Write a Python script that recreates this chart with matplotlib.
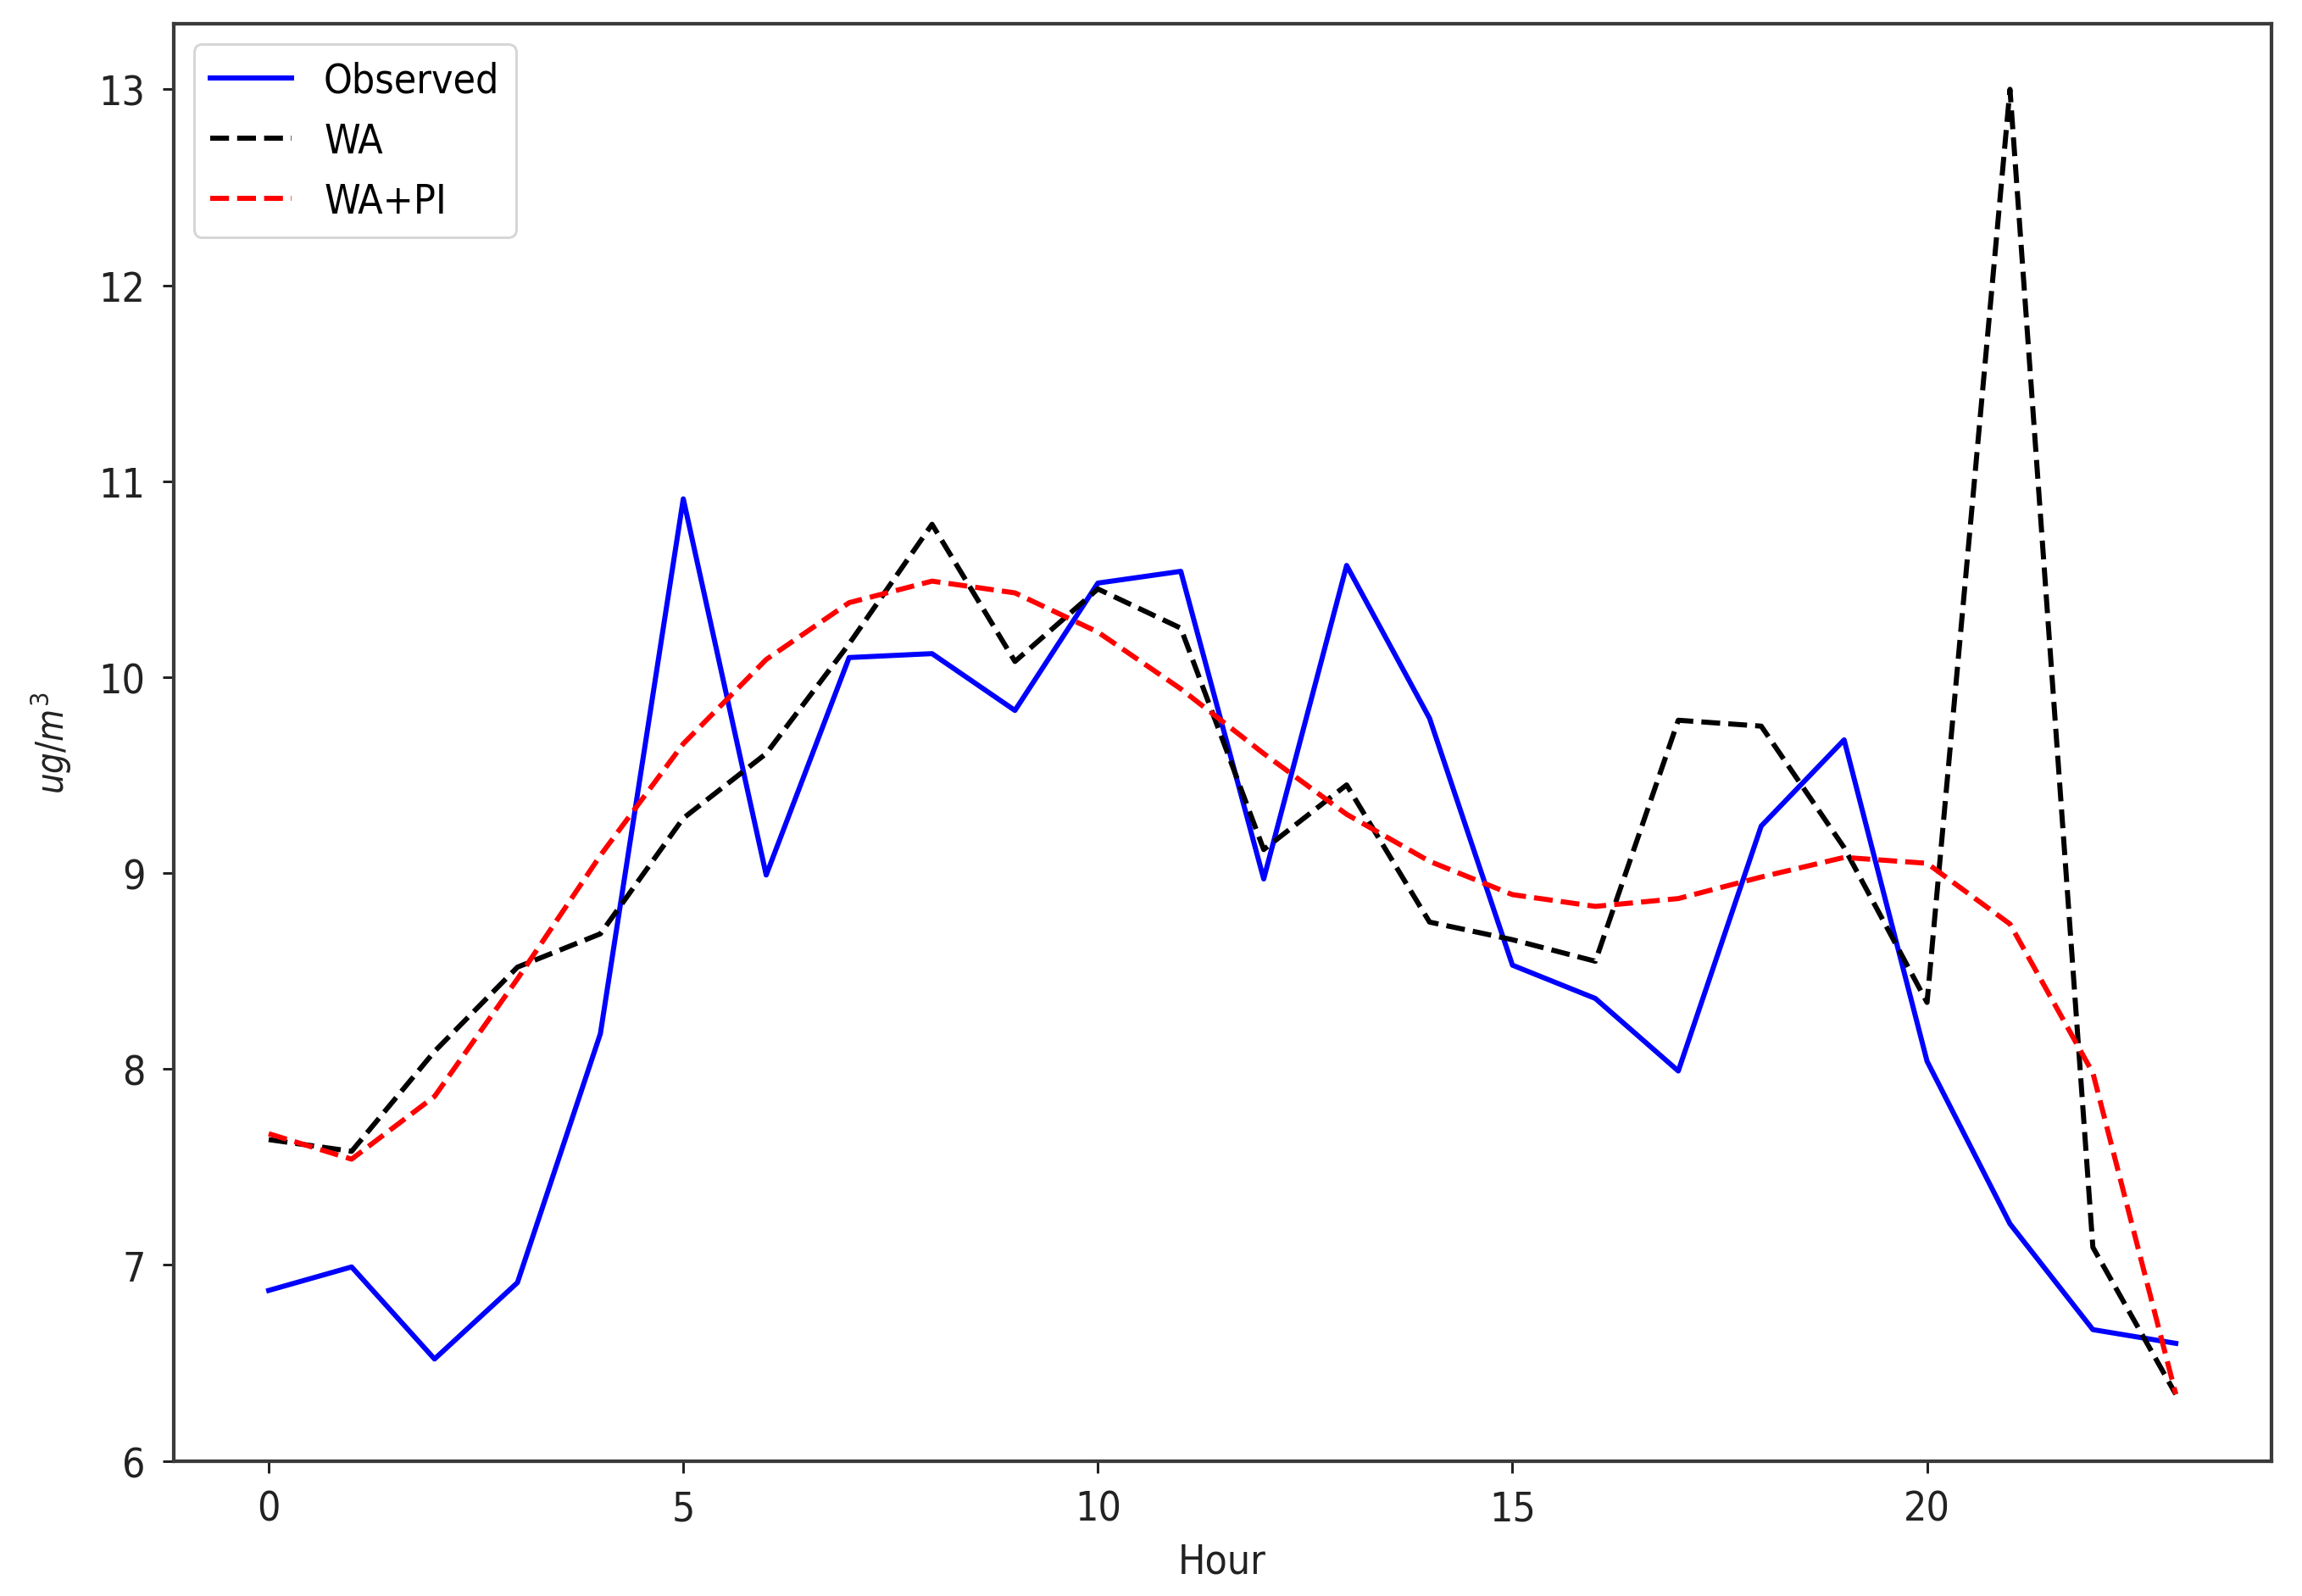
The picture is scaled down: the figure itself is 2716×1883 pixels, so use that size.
import matplotlib
matplotlib.use("Agg")
import matplotlib.pyplot as plt
from matplotlib import font_manager

# Hourly values
hours = list(range(24))

observed = [6.87, 6.99, 6.52, 6.91, 8.18, 10.91, 8.99, 10.10, 10.12, 9.83, 10.48, 10.54,
            8.97, 10.57, 9.79, 8.53, 8.36, 7.99, 9.24, 9.68, 8.04, 7.21, 6.67, 6.60]

wa = [7.64, 7.58, 8.09, 8.52, 8.69, 9.28, 9.61, 10.17, 10.78, 10.08, 10.45, 10.25,
      9.12, 9.45, 8.75, 8.66, 8.55, 9.78, 9.75, 9.13, 8.34, 13.00, 7.09, 6.34]

wa_pi = [7.67, 7.54, 7.86, 8.46, 9.09, 9.66, 10.09, 10.38, 10.49, 10.43, 10.23, 9.94,
         9.61, 9.30, 9.06, 8.89, 8.83, 8.87, 8.98, 9.08, 9.05, 8.74, 7.98, 6.34]

# the reference text is narrow and tall, use the condensed face if it is there
condensed = any(f.name == "DejaVu Sans" and f.stretch == "condensed"
                for f in font_manager.fontManager.ttflist)
if condensed:
    plt.rcParams["font.stretch"] = "condensed"
    fs = 16
else:
    fs = 14.5
plt.rcParams["font.size"] = fs
plt.rcParams["axes.edgecolor"] = "#3a3a3a"
plt.rcParams["axes.linewidth"] = 1.4
plt.rcParams["xtick.major.size"] = 4.5
plt.rcParams["ytick.major.size"] = 4.5
plt.rcParams["xtick.major.width"] = 1.0
plt.rcParams["ytick.major.width"] = 1.0
plt.rcParams["xtick.major.pad"] = 6.5
plt.rcParams["ytick.major.pad"] = 6.5
plt.rcParams["xtick.color"] = "#222222"
plt.rcParams["ytick.color"] = "#222222"

fig = plt.figure(figsize=(2716 / 216, 1884 / 216), dpi=216)
ax = fig.add_axes([0.0753, 0.0846, 0.9866 - 0.0753, 0.9844 - 0.0846])

ax.plot(hours, observed, color="blue", lw=2.0, label="Observed")
ax.plot(hours, wa, "k--", lw=2.0, label="WA")
ax.plot(hours, wa_pi, "r--", lw=2.0, label="WA+PI")

ax.set_ylim(bottom=6)
ax.set_xlabel("Hour", color="#222222", labelpad=5)
ax.set_ylabel(r"$ug/m^3$", fontsize=14.5, color="#222222", labelpad=10)
ax.legend(loc="upper left")

fig.savefig("out.png", dpi=216)
